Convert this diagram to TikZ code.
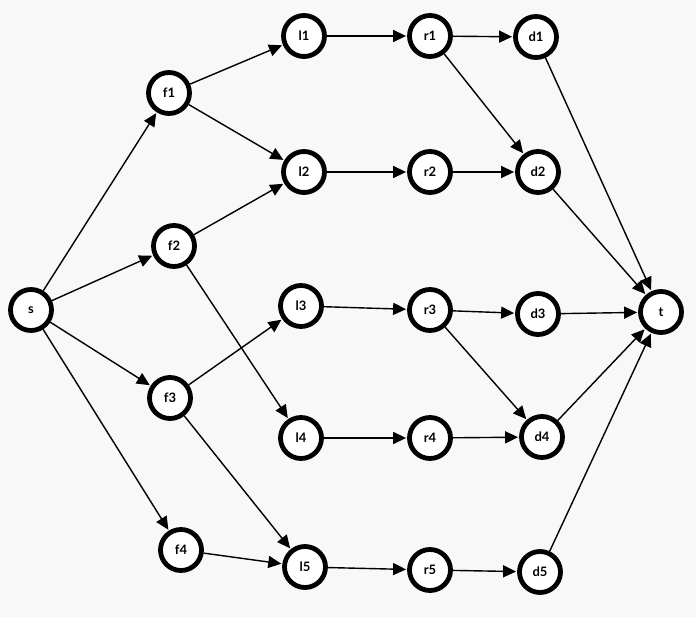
\documentclass[tikz,border=0pt]{standalone}
\usepackage{fontspec}
\setmainfont{Lato}
\usetikzlibrary{arrows.meta}
\definecolor{bgc}{HTML}{F8F8F8}
\begin{document}
\begin{tikzpicture}[x=1pt,y=-1pt,
  vtx/.style={circle,draw=black,fill=white,line width=4.8pt,minimum size=41pt,inner sep=0pt,font=\bfseries\fontsize{13}{15}\selectfont},
  edge/.style={line width=1.4pt,-{Triangle[length=13pt,width=12pt]},shorten >=1pt}]
\fill[bgc] (0,0) rectangle (696,617);
\useasboundingbox (0,0) rectangle (696,617);
\node[vtx] (s) at (31,310) {s};
\node[vtx] (f1) at (169,93) {f1};
\node[vtx] (f2) at (174,246) {f2};
\node[vtx] (f3) at (170,398) {f3};
\node[vtx] (f4) at (181,550) {f4};
\node[vtx] (l1) at (304,36) {l1};
\node[vtx] (l2) at (304,172) {l2};
\node[vtx] (l3) at (301,306) {l3};
\node[vtx] (l4) at (301,438) {l4};
\node[vtx] (l5) at (305,567) {l5};
\node[vtx] (r1) at (430,36) {r1};
\node[vtx] (r2) at (430,172) {r2};
\node[vtx] (r3) at (430,310) {r3};
\node[vtx] (r4) at (430,438) {r4};
\node[vtx] (r5) at (430,570) {r5};
\node[vtx] (d1) at (536,37) {d1};
\node[vtx] (d2) at (538,172) {d2};
\node[vtx] (d3) at (538,314) {d3};
\node[vtx] (d4) at (542,437) {d4};
\node[vtx] (d5) at (540,572) {d5};
\node[vtx] (t) at (661,312) {t};
\foreach \a/\b in {s/f1,s/f2,s/f3,s/f4,f1/l1,f1/l2,f2/l2,f2/l4,f3/l3,f3/l5,f4/l5,
  l1/r1,l2/r2,l3/r3,l4/r4,l5/r5,r1/d1,r1/d2,r2/d2,r3/d3,r3/d4,r4/d4,r5/d5,
  d1/t,d2/t,d3/t,d4/t,d5/t}
  \draw[edge] (\a) -- (\b);
\end{tikzpicture}
\end{document}
